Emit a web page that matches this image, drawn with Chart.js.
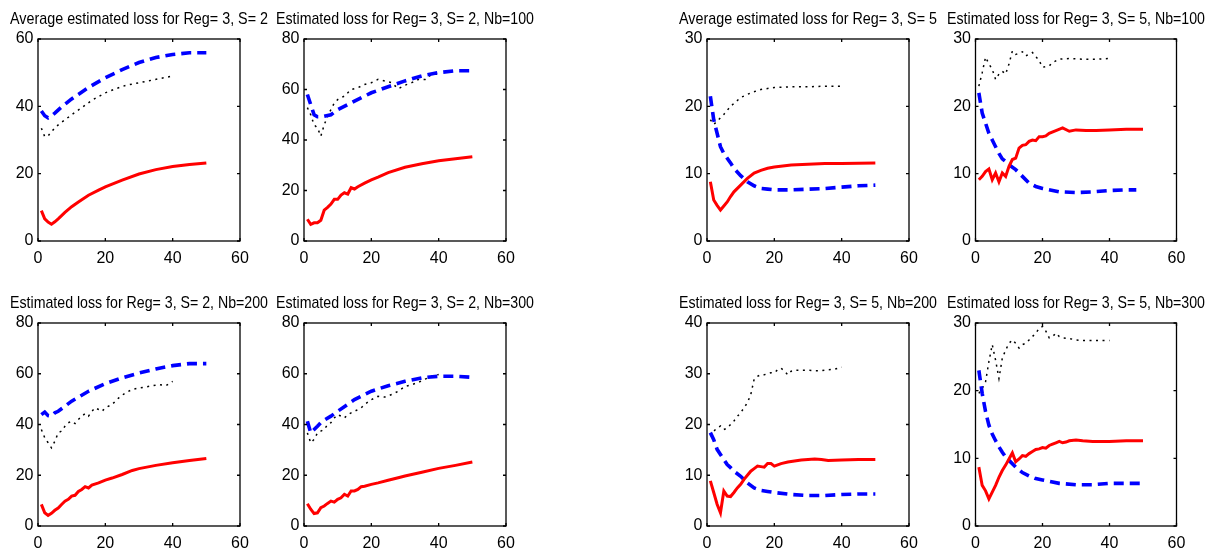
<!DOCTYPE html>
<html>
<head>
<meta charset="utf-8">
<script src="https://cdn.jsdelivr.net/npm/chart.js@4/dist/chart.umd.min.js"></script>
<style>
  html, body { margin: 0; padding: 0; background: #fff; width: 1216px; height: 553px; overflow: hidden; }
  body { position: relative; }
  canvas { position: absolute; }
</style>
</head>
<body>
<script>
// ---- tick labels ----
const xTicks = [0, 20, 40, 60];
const yTicks60 = [0, 20, 40, 60];
const yTicks80 = [0, 20, 40, 60, 80];
const yTicks30 = [0, 10, 20, 30];
const yTicks40 = [0, 10, 20, 30, 40];

// ---- panel titles ----
const titles = [
  'Average estimated loss for Reg= 3, S= 2',
  'Estimated loss for Reg= 3, S= 2, Nb=100',
  'Average estimated loss for Reg= 3, S= 5',
  'Estimated loss for Reg= 3, S= 5, Nb=100',
  'Estimated loss for Reg= 3, S= 2, Nb=200',
  'Estimated loss for Reg= 3, S= 2, Nb=300',
  'Estimated loss for Reg= 3, S= 5, Nb=200',
  'Estimated loss for Reg= 3, S= 5, Nb=300'
];

// ---- series: [iteration, loss] ----
// S=2, average
const avgS2Red = [[1,9],[2,6.6],[3,5.6],[4,5],[5,5.7],[6,6.6],[8,8.5],[10,10.2],[12,11.6],[15,13.6],[18,15.1],[20,16.1],[25,18.1],[30,19.9],[35,21.2],[40,22.1],[45,22.7],[50,23.2]];
const avgS2Blue = [[1,38.6],[2,37.2],[3,36.6],[4,37.2],[5,38],[7,39.8],[10,42.2],[15,45.6],[20,48.5],[25,50.9],[30,53],[35,54.5],[40,55.4],[45,55.9],[50,55.9]];
const avgS2Black = [[1,33.5],[2,31],[3,31.2],[4,32.5],[5,33.5],[6,34.5],[8,36],[10,37.5],[13,39.6],[16,41.8],[20,44],[23,45.2],[26,46.2],[30,47],[33,47.6],[36,48.2],[40,49]];

// S=2, Nb=100
const s2n100Red = [[1,8.6],[2,6.6],[3,7.2],[4,7.2],[5,8.2],[6,12.2],[7,13.3],[8,14.6],[9,16.5],[10,16.5],[11,18.2],[12,19.1],[13,18.6],[14,21.1],[15,20.6],[16,21.5],[18,22.9],[20,24.2],[22,25.3],[25,27.1],[30,29.2],[35,30.6],[40,31.8],[45,32.6],[50,33.4]];
const s2n100Blue = [[1,58],[2,54],[3,50],[4,49.2],[5,49.2],[6,49.4],[8,50],[10,52],[15,55.4],[20,58.7],[25,61.1],[30,63.4],[35,65.4],[40,66.7],[45,67.4],[50,67.4]];
const s2n100Black = [[1,52.8],[2,50],[3,46],[4,44.8],[5,41.5],[6,46],[7,49.4],[8,52],[9,54.7],[10,56],[12,57.4],[14,60],[16,60.7],[18,62],[20,62.7],[22,64],[24,63.4],[26,62.7],[28,60.3],[30,61.7],[32,62.7],[34,64],[36,64],[38,66],[40,66]];

// S=5, average
const avgS5Red = [[1,8.8],[2,6.1],[3,5.3],[4,4.6],[5,5.2],[6,5.8],[7,6.6],[8,7.3],[10,8.3],[12,9.3],[14,10.1],[16,10.5],[18,10.8],[20,11],[25,11.3],[30,11.4],[35,11.5],[40,11.5],[50,11.6]];
const avgS5Blue = [[1,21.5],[2,18],[3,16],[4,14],[5,13],[6,12.3],[7,11.6],[8,10.8],[10,9.7],[12,8.8],[14,8.2],[16,7.8],[18,7.7],[20,7.6],[25,7.6],[30,7.7],[35,7.8],[40,8],[45,8.2],[50,8.3]];
const avgS5Black = [[1,18],[2,17.3],[3,17.8],[5,18.8],[7,20],[10,21.3],[13,22],[16,22.5],[20,22.8],[25,22.9],[30,22.9],[35,23],[40,23]];

// S=5, Nb=100
const s5n100Red = [[1,9.1],[2,9.6],[3,10.3],[4,10.7],[5,9.1],[6,10.1],[7,8.8],[8,10.1],[9,9.6],[10,11.1],[11,12.1],[12,12.3],[13,13.8],[14,14.2],[15,14.3],[16,14.8],[17,15],[18,14.9],[19,15.5],[20,15.5],[21,15.6],[22,16],[24,16.4],[26,16.8],[28,16.3],[30,16.5],[33,16.4],[36,16.4],[40,16.5],[45,16.6],[50,16.6]];
const s5n100Blue = [[1,22],[2,19],[3,17.5],[4,16],[5,15],[6,14],[7,13],[8,12.2],[9,11.8],[10,11.3],[12,10.6],[14,9.6],[16,8.6],[18,8.1],[20,7.8],[25,7.3],[30,7.2],[35,7.3],[40,7.5],[45,7.6],[48,7.6]];
const s5n100Black = [[1,23],[2,25],[3,27.3],[4,26.3],[5,25.5],[6,24],[7,24.8],[8,25.2],[9,24.8],[10,26.3],[11,28.2],[12,27.7],[14,28.1],[15,27.5],[17,28],[19,26.8],[20,25.8],[22,26],[23,26.5],[25,27],[28,27.1],[32,27],[36,27],[40,27.1]];

// S=2, Nb=200
const s2n200Red = [[1,8.5],[2,5.2],[3,4.2],[4,5],[5,6.2],[6,7.1],[7,8.5],[8,9.8],[9,10.5],[10,11.8],[11,12.1],[12,13.6],[13,14.4],[14,15.5],[15,15],[16,16.1],[18,17],[20,18.1],[22,18.9],[25,20.3],[28,21.9],[30,22.6],[35,23.9],[40,24.9],[45,25.8],[50,26.6]];
const s2n200Blue = [[1,43.9],[2,44.9],[3,43.5],[4,43.3],[5,44.6],[6,45.2],[8,47.2],[10,49.2],[15,53.1],[20,56.1],[25,58.4],[30,60.3],[35,61.9],[40,63.2],[45,64],[50,64]];
const s2n200Black = [[1,38],[2,34.8],[3,32.8],[4,30.8],[5,33.4],[6,36.7],[7,37.4],[8,39.3],[9,40.7],[10,41.3],[11,40.4],[12,42],[13,43.3],[14,44.3],[15,43.3],[16,45.2],[17,46.6],[18,45.9],[19,45.2],[20,46.6],[22,47.9],[24,50.5],[26,52.5],[28,53.8],[30,54.4],[32,54.8],[34,55.3],[36,55.7],[38,55.3],[40,57]];

// S=2, Nb=300
const s2n300Red = [[1,8.8],[2,6.6],[3,4.9],[4,5.2],[5,7.2],[6,7.9],[7,8.9],[8,9.8],[9,9.4],[10,10.5],[11,11.1],[12,12.5],[13,11.8],[14,13.8],[15,13.8],[16,14.4],[17,15.5],[18,15.7],[20,16.4],[22,17],[25,18],[28,19],[30,19.7],[35,21.2],[40,22.7],[45,23.9],[50,25.2]];
const s2n300Blue = [[1,41.3],[2,36.7],[3,38],[4,39.3],[5,40.7],[6,41.7],[8,43.3],[10,45.2],[15,49.8],[20,53.1],[25,55.3],[30,57],[35,58.4],[40,59],[45,59],[50,58.6]];
const s2n300Black = [[1,36.7],[2,32.8],[3,34.1],[4,36.7],[5,37.4],[6,38],[7,40],[8,40.7],[9,42.6],[10,43.9],[11,43.3],[12,42.6],[13,43.9],[14,44.6],[15,45.2],[16,45.9],[17,46.6],[18,47.9],[20,49.8],[22,51.1],[24,50.8],[26,51.8],[28,53.1],[30,55],[32,55.7],[34,56.6],[36,57.9],[38,59],[40,59.7]];

// S=5, Nb=200
const s5n200Red = [[1,8.9],[2,6.6],[3,4.3],[4,2.6],[5,6.9],[6,5.9],[7,5.8],[8,6.6],[9,7.5],[10,8.2],[11,9.2],[12,10],[13,10.8],[14,11.3],[15,11.8],[16,11.7],[17,11.6],[18,12.3],[19,12.3],[20,11.8],[22,12.3],[24,12.6],[26,12.8],[28,13],[30,13.1],[32,13.2],[34,13.1],[36,12.9],[40,13],[45,13.1],[50,13.1]];
const s5n200Blue = [[1,18.4],[2,17],[3,15.1],[4,14.1],[5,13.1],[6,12.1],[7,11.5],[8,10.8],[10,9.8],[12,8.5],[14,7.5],[16,7],[18,6.8],[20,6.6],[25,6.2],[30,6],[35,6],[40,6.2],[45,6.3],[50,6.3]];
const s5n200Black = [[1,17.7],[2,18.7],[3,19.3],[4,19.7],[5,19],[6,19.3],[7,20],[8,20.7],[9,21.6],[10,22.3],[11,23.3],[12,24.3],[13,25.9],[14,28.9],[15,29.5],[16,29.8],[17,29.8],[18,30],[19,30.2],[20,30.2],[21,30.8],[22,31.1],[23,30.5],[24,29.8],[25,30.5],[26,30.7],[28,30.7],[30,30.7],[32,30.6],[34,30.6],[36,30.8],[38,30.9],[40,31.3]];

// S=5, Nb=300
const s5n300Red = [[1,8.7],[2,6],[3,5.2],[4,4],[5,5],[6,6],[7,7.2],[8,8.2],[9,9],[10,9.9],[11,10.8],[12,9.5],[13,9.9],[14,10.4],[15,10.3],[16,10.7],[17,11],[18,11.3],[19,11.4],[20,11.6],[21,11.5],[22,11.9],[23,12.1],[24,12.3],[25,12.5],[26,12.3],[27,12.4],[28,12.6],[30,12.7],[32,12.6],[35,12.5],[40,12.5],[45,12.6],[50,12.6]];
const s5n300Blue = [[1,23],[2,19.6],[3,16.9],[4,14.9],[5,13.6],[6,12.6],[7,11.7],[8,10.9],[9,10.2],[10,9.7],[12,8.7],[14,7.9],[16,7.4],[18,7],[20,6.8],[25,6.3],[30,6.1],[35,6.1],[40,6.3],[45,6.3],[50,6.3]];
const s5n300Black = [[1,19.6],[2,20.3],[3,21.3],[4,24.3],[5,26.8],[6,24.5],[7,21.8],[8,24.8],[9,26],[10,27],[11,27.5],[12,27],[13,26.3],[14,26.8],[15,27],[16,27.5],[17,28],[18,28.5],[19,29.2],[20,29.5],[21,28.8],[22,27.8],[23,28],[24,28.5],[25,28],[26,27.8],[28,27.7],[30,27.5],[32,27.4],[34,27.4],[36,27.4],[38,27.4],[40,27.4]];

// ---- panel set-up ----
const panels = [
  { title: titles[0], yTicks: yTicks60, red: avgS2Red,  blue: avgS2Blue,  black: avgS2Black },
  { title: titles[1], yTicks: yTicks80, red: s2n100Red, blue: s2n100Blue, black: s2n100Black },
  { title: titles[2], yTicks: yTicks30, red: avgS5Red,  blue: avgS5Blue,  black: avgS5Black },
  { title: titles[3], yTicks: yTicks30, red: s5n100Red, blue: s5n100Blue, black: s5n100Black },
  { title: titles[4], yTicks: yTicks80, red: s2n200Red, blue: s2n200Blue, black: s2n200Black },
  { title: titles[5], yTicks: yTicks80, red: s2n300Red, blue: s2n300Blue, black: s2n300Black },
  { title: titles[6], yTicks: yTicks40, red: s5n200Red, blue: s5n200Blue, black: s5n200Black },
  { title: titles[7], yTicks: yTicks30, red: s5n300Red, blue: s5n300Blue, black: s5n300Black }
];

// plot-box placement (left edge, top edge, width, height of each axes box)
const boxes = [
  { l: 38,  t: 39,  w: 202, h: 202 },
  { l: 304, t: 39,  w: 202, h: 202 },
  { l: 707, t: 39,  w: 202, h: 202 },
  { l: 975, t: 39,  w: 201, h: 202 },
  { l: 38,  t: 323, w: 202, h: 203 },
  { l: 304, t: 323, w: 202, h: 203 },
  { l: 707, t: 323, w: 202, h: 203 },
  { l: 975, t: 323, w: 201, h: 203 }
];

const CANVAS_W = 258;   // title text is fitted into this width
const TOP_SPACE = 38;   // title band above the axes box
const BOTTOM_SPACE = 30;
const FONT = "'Liberation Sans', Arial, Helvetica, sans-serif";

// axes box with inward tick marks on all four sides
const framePlugin = {
  id: 'frame',
  afterDatasetsDraw(chart) {
    const { ctx, chartArea: a, scales } = chart;
    const len = 3;
    ctx.save();
    ctx.strokeStyle = '#000';
    ctx.lineWidth = 1.3;
    ctx.strokeRect(a.left, a.top, a.right - a.left, a.bottom - a.top);
    ctx.beginPath();
    scales.x.ticks.forEach(tk => {
      const px = scales.x.getPixelForValue(tk.value);
      ctx.moveTo(px, a.bottom); ctx.lineTo(px, a.bottom - len);
      ctx.moveTo(px, a.top);    ctx.lineTo(px, a.top + len);
    });
    scales.y.ticks.forEach(tk => {
      const py = scales.y.getPixelForValue(tk.value);
      ctx.moveTo(a.left, py);  ctx.lineTo(a.left + len, py);
      ctx.moveTo(a.right, py); ctx.lineTo(a.right - len, py);
    });
    ctx.stroke();
    ctx.restore();
  }
};

const toXY = arr => arr.map(([x, y]) => ({ x, y }));

panels.forEach((p, i) => {
  const b = boxes[i];
  const side = (CANVAS_W - b.w) / 2;
  const canvas = document.createElement('canvas');
  canvas.width = CANVAS_W;
  canvas.height = TOP_SPACE + b.h + BOTTOM_SPACE;
  canvas.style.left = (b.l - side) + 'px';
  canvas.style.top = (b.t - TOP_SPACE) + 'px';
  canvas.style.width = CANVAS_W + 'px';
  canvas.style.height = canvas.height + 'px';
  document.body.appendChild(canvas);

  const yMin = p.yTicks[0], yMax = p.yTicks[p.yTicks.length - 1];

  new Chart(canvas, {
    type: 'line',
    data: {
      datasets: [
        { label: 'red',   data: toXY(p.red),   borderColor: '#ff0000', borderWidth: 3,   pointRadius: 0, tension: 0, fill: false },
        { label: 'blue',  data: toXY(p.blue),  borderColor: '#0000ff', borderWidth: 3.6, borderDash: [10, 6], pointRadius: 0, tension: 0, fill: false },
        { label: 'black', data: toXY(p.black), borderColor: '#000000', borderWidth: 1.5, borderDash: [2, 4.5], pointRadius: 0, tension: 0, fill: false }
      ]
    },
    options: {
      responsive: false,
      animation: false,
      devicePixelRatio: 1,
      events: [],
      layout: { padding: 0 },
      plugins: {
        legend: { display: false },
        tooltip: { enabled: false },
        title: {
          display: true,
          text: p.title,
          color: '#000',
          font: { family: FONT, size: 17, weight: 'normal', lineHeight: 1.2 },
          padding: { top: 8.2, bottom: 9.4 }
        }
      },
      scales: {
        x: {
          type: 'linear',
          min: xTicks[0], max: xTicks[xTicks.length - 1],
          afterBuildTicks: s => { s.ticks = xTicks.map(v => ({ value: v })); },
          afterFit: s => { s.height = BOTTOM_SPACE; },
          grid: { display: false, drawTicks: false },
          border: { display: false },
          ticks: { color: '#000', padding: 8, maxRotation: 0, autoSkip: false, font: { family: FONT, size: 16 } }
        },
        y: {
          type: 'linear',
          position: 'left',
          min: yMin, max: yMax,
          afterBuildTicks: s => { s.ticks = p.yTicks.map(v => ({ value: v })); },
          afterFit: s => { s.width = side; },
          grid: { display: false, drawTicks: false },
          border: { display: false },
          ticks: { color: '#000', padding: 4.5, autoSkip: false, font: { family: FONT, size: 16 } }
        },
        yRight: {
          type: 'linear',
          position: 'right',
          display: true,
          afterFit: s => { s.width = side; },
          grid: { display: false, drawTicks: false },
          border: { display: false },
          ticks: { display: false }
        }
      }
    },
    plugins: [framePlugin]
  });
});
</script>
</body>
</html>
